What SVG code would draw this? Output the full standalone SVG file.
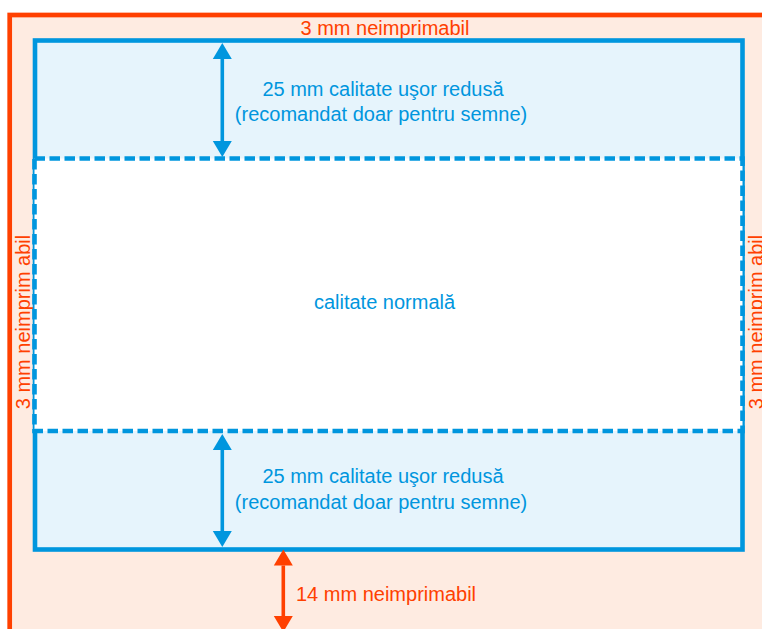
<svg xmlns="http://www.w3.org/2000/svg" width="762" height="629" viewBox="0 0 762 629">
<style>
.t{font-family:"Liberation Sans",Arial,sans-serif;font-size:20px}
.o{fill:#FF4000}
.b{fill:#0096DE}
.m{text-anchor:middle}
.al{stroke-width:3.6;fill:none}
</style>
<defs>
<marker id="ab" markerUnits="userSpaceOnUse" viewBox="0 0 20 20" markerWidth="20" markerHeight="20" refX="0" refY="10" orient="auto-start-reverse"><path d="M0,0.5 L16,10 L0,19.5 Z" fill="#0096DE"/></marker>
<marker id="ao" markerUnits="userSpaceOnUse" viewBox="0 0 20 20" markerWidth="20" markerHeight="20" refX="0" refY="10" orient="auto-start-reverse"><path d="M0,0.5 L16,10 L0,19.5 Z" fill="#FF4000"/></marker>
</defs>
<rect width="762" height="629" fill="#ffffff"/>
<g id="unprintable">
<rect x="9.7" y="15" width="800" height="700" fill="#FEEBE1" stroke="#FF4000" stroke-width="4.7"/>
<text class="t o m" x="385" y="35">3 mm neimprimabil</text>
<text class="t o m" transform="translate(29.5,322) rotate(-90)">3 mm neimprim abil</text>
<text class="t o m" transform="translate(763,322) rotate(-90)">3 mm neimprim abil</text>
<text class="t o" x="296" y="600.7">14 mm neimprimabil</text>
</g>
<g id="reduced">
<rect x="35" y="40.5" width="707.5" height="509" fill="#E6F4FC" stroke="#0096DE" stroke-width="4.6"/>
<text class="t b m" x="383" y="95.7">25 mm calitate uşor redusă</text>
<text class="t b m" x="381" y="120.7">(recomandat doar pentru semne)</text>
<text class="t b m" x="383" y="483.3">25 mm calitate uşor redusă</text>
<text class="t b m" x="381" y="509.3">(recomandat doar pentru semne)</text>
</g>
<g id="normal">
<rect x="34.5" y="158.5" width="708" height="272.5" fill="#ffffff" stroke="#0096DE" stroke-width="4.6" stroke-dasharray="10.5 4.5"/>
<text class="t b m" x="384.5" y="309.3">calitate normală</text>
</g>
<g id="connectors">
<line class="al" x1="222.3" y1="59" x2="222.3" y2="141" stroke="#0096DE" marker-start="url(#ab)" marker-end="url(#ab)"/>
<line class="al" x1="222.3" y1="450" x2="222.3" y2="531" stroke="#0096DE" marker-start="url(#ab)" marker-end="url(#ab)"/>
<line class="al" x1="283.3" y1="565.5" x2="283.3" y2="616" stroke="#FF4000" marker-start="url(#ao)" marker-end="url(#ao)"/>
</g>
</svg>
